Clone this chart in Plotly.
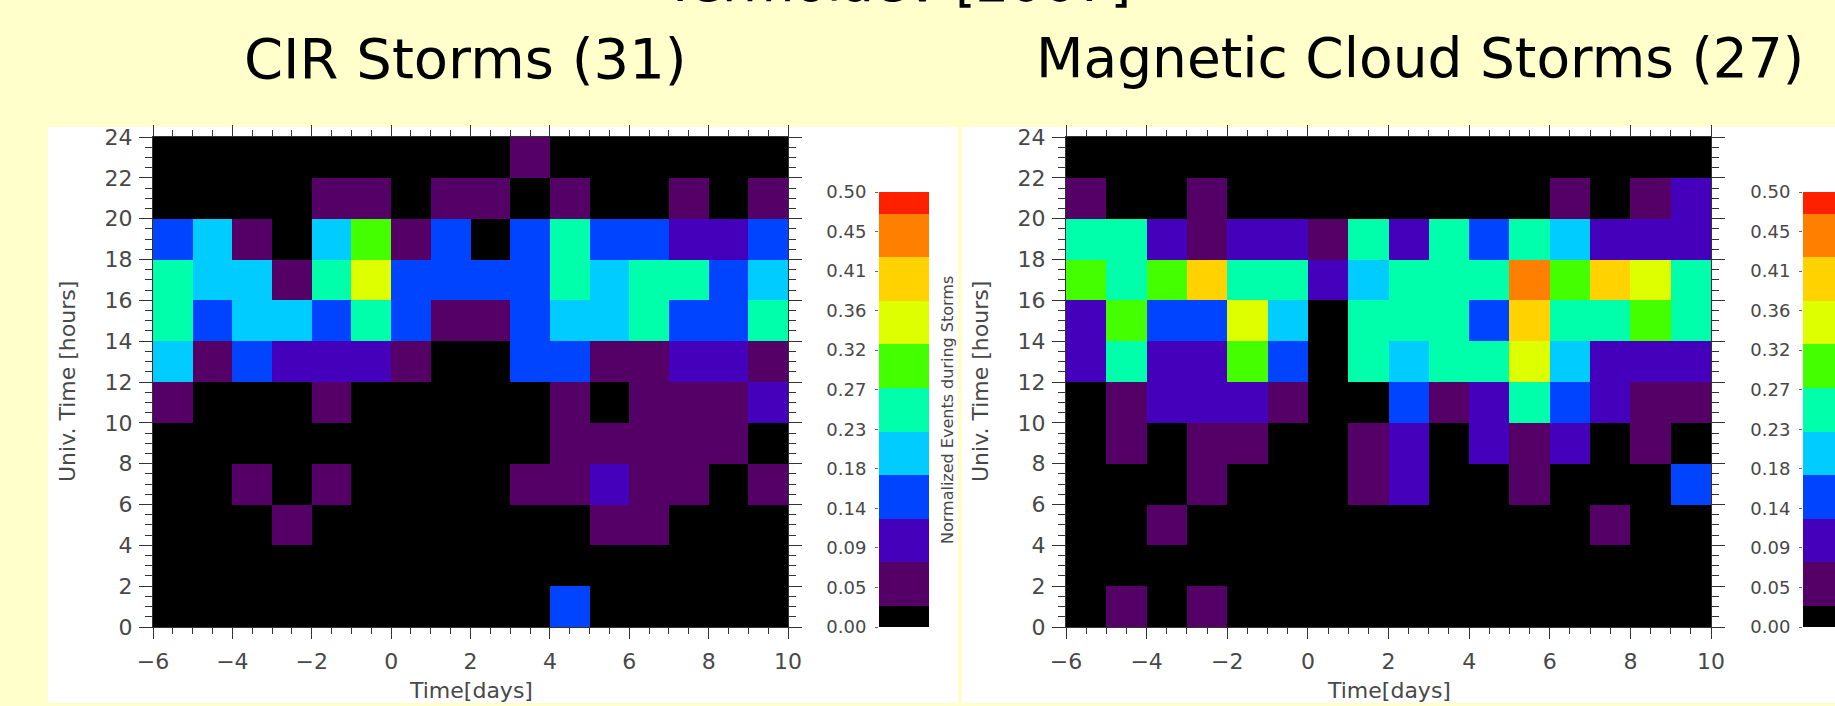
import plotly.graph_objects as go

W, H = 1835, 706

# ---------------- data ----------------
day_centers = [-5.5, -4.5, -3.5, -2.5, -1.5, -0.5, 0.5, 1.5, 2.5, 3.5, 4.5, 5.5, 6.5, 7.5, 8.5, 9.5]
ut_centers_top_down = [23, 21, 19, 17, 15, 13, 11, 9, 7, 5, 3, 1]

# CIR storms (31) : normalized events, rows from UT 22-24 down to UT 0-2
cir_rows = [
    [0, 0, 0, 0, 0, 0, 0, 0, 0, .05, 0, 0, 0, 0, 0, 0],
    [0, 0, 0, 0, .05, .05, 0, .05, .05, 0, .05, 0, 0, .05, 0, .05],
    [.15, .20, .05, 0, .20, .30, .05, .15, 0, .15, .25, .15, .15, .10, .10, .15],
    [.25, .20, .20, .05, .25, .35, .15, .15, .15, .15, .25, .20, .25, .25, .15, .20],
    [.25, .15, .20, .20, .15, .25, .15, .05, .05, .15, .20, .20, .25, .15, .15, .25],
    [.20, .05, .15, .10, .10, .10, .05, 0, 0, .15, .15, .05, .05, .10, .10, .05],
    [.05, 0, 0, 0, .05, 0, 0, 0, 0, 0, .05, 0, .05, .05, .05, .10],
    [0, 0, 0, 0, 0, 0, 0, 0, 0, 0, .05, .05, .05, .05, .05, 0],
    [0, 0, .05, 0, .05, 0, 0, 0, 0, .05, .05, .10, .05, .05, 0, .05],
    [0, 0, 0, .05, 0, 0, 0, 0, 0, 0, 0, .05, .05, 0, 0, 0],
    [0, 0, 0, 0, 0, 0, 0, 0, 0, 0, 0, 0, 0, 0, 0, 0],
    [0, 0, 0, 0, 0, 0, 0, 0, 0, 0, .15, 0, 0, 0, 0, 0],
]

# Magnetic cloud storms (27)
mc_rows = [
    [0, 0, 0, 0, 0, 0, 0, 0, 0, 0, 0, 0, 0, 0, 0, 0],
    [.05, 0, 0, .05, 0, 0, 0, 0, 0, 0, 0, 0, .05, 0, .05, .10],
    [.25, .25, .10, .05, .10, .10, .05, .25, .10, .25, .15, .25, .20, .10, .10, .10],
    [.30, .25, .30, .40, .25, .25, .10, .20, .25, .25, .25, .45, .30, .40, .35, .25],
    [.10, .30, .15, .15, .35, .20, 0, .25, .25, .25, .15, .40, .25, .25, .30, .25],
    [.10, .25, .10, .10, .30, .15, 0, .25, .20, .25, .25, .35, .20, .10, .10, .10],
    [0, .05, .10, .10, .10, .05, 0, 0, .15, .05, .10, .25, .15, .10, .05, .05],
    [0, .05, 0, .05, .05, 0, 0, .05, .10, 0, .10, .05, .10, 0, .05, 0],
    [0, 0, 0, .05, 0, 0, 0, .05, .10, 0, 0, .05, 0, 0, 0, .15],
    [0, 0, .05, 0, 0, 0, 0, 0, 0, 0, 0, 0, 0, .05, 0, 0],
    [0, 0, 0, 0, 0, 0, 0, 0, 0, 0, 0, 0, 0, 0, 0, 0],
    [0, .05, 0, .05, 0, 0, 0, 0, 0, 0, 0, 0, 0, 0, 0, 0],
]

level_values = [0.0, 0.05, 0.10, 0.15, 0.20, 0.25, 0.30, 0.35, 0.40, 0.45, 0.50]
level_colors = ["#000000", "#550066", "#4400BB", "#0044FF", "#00CCFF", "#00FFAA",
                "#44FF00", "#DDFF00", "#FFD200", "#FF8000", "#FF2000"]
cbar_tickvals = [0.0, 0.04545, 0.09091, 0.13636, 0.18182, 0.22727, 0.27273,
                 0.31818, 0.36364, 0.40909, 0.45455, 0.5]
cbar_ticktext = ["0.00", "0.05", "0.09", "0.14", "0.18", "0.23", "0.27",
                 "0.32", "0.36", "0.41", "0.45", "0.50"]
x_ticks = [-6, -4, -2, 0, 2, 4, 6, 8, 10]
y_ticks = [0, 2, 4, 6, 8, 10, 12, 14, 16, 18, 20, 22, 24]

main_title = "Yermolaev [2007]"
panel_titles = ["CIR Storms (31)", "Magnetic Cloud Storms (27)"]
x_title = "Time[days]"
y_title = "Univ. Time [hours]"
cbar_title = "Normalized Events during Storms"

# ---------------- helpers ----------------
def fx(px):
    return px / W


def fy(py):
    return 1 - py / H


n = len(level_colors)
colorscale = []
for i, c in enumerate(level_colors):
    colorscale.append([i / n, c])
    colorscale.append([(i + 1) / n, c])
zmin, zmax = -0.025, 0.525

ut_centers = ut_centers_top_down[::-1]
cir_z = cir_rows[::-1]
mc_z = mc_rows[::-1]

fig = go.Figure()

for k, z in enumerate([cir_z, mc_z]):
    sfx = "" if k == 0 else "2"
    fig.add_trace(go.Heatmap(
        x=day_centers, y=ut_centers, z=z,
        colorscale=colorscale, zmin=zmin, zmax=zmax, showscale=False,
        xaxis="x" + sfx, yaxis="y" + sfx, hoverinfo="skip"))

for k in range(2):
    sfx = "3" if k == 0 else "4"
    fig.add_trace(go.Heatmap(
        x=[0], y=level_values, z=[[v] for v in level_values],
        colorscale=colorscale, zmin=zmin, zmax=zmax, showscale=False,
        xaxis="x" + sfx, yaxis="y" + sfx, hoverinfo="skip"))

tick_font = dict(family="DejaVu Sans", size=22, color="#484848")
axcol = "#333333"

common_x = dict(range=[-6, 10], tickvals=x_ticks, ticks="outside", ticklen=11,
                tickwidth=1.2, tickcolor=axcol, showline=True, linecolor=axcol,
                linewidth=1.2, mirror="allticks", showgrid=False, zeroline=False,
                tickfont=tick_font, ticklabelstandoff=3, automargin=False,
                minor=dict(ticks="outside", ticklen=6, dtick=0.5, tickcolor=axcol,
                           tickwidth=1, showgrid=False))
common_y = dict(range=[0, 24], tickvals=y_ticks, ticks="outside", ticklen=13,
                tickwidth=1.2, tickcolor=axcol, showline=True, linecolor=axcol,
                linewidth=1.2, mirror="allticks", showgrid=False, zeroline=False,
                tickfont=tick_font, ticklabelstandoff=2, automargin=False,
                minor=dict(ticks="outside", ticklen=7, dtick=0.5, tickcolor=axcol,
                           tickwidth=1, showgrid=False))

plot_top, plot_bot = 137, 627
left_x = (153, 788)
right_x = (1066, 1711)
cb_top, cb_bot = 192, 627
cb1_x = (879, 929)
cb2_x = (1803, 1853)

cbar_axis = dict(range=[0, 0.5], tickvals=cbar_tickvals, ticktext=cbar_ticktext,
                 ticks="outside", ticklen=3, tickcolor="#666666", showline=False,
                 showgrid=False, zeroline=False, ticklabelstandoff=5, automargin=False,
                 tickfont=dict(family="DejaVu Sans", size=18, color="#484848"))
hidden_x = dict(visible=False, range=[-0.5, 0.5], automargin=False)

fig.update_layout(
    template="none",
    width=W, height=H,
    margin=dict(l=0, r=0, t=0, b=0, pad=0, autoexpand=False),
    paper_bgcolor="#FFFFCC",
    plot_bgcolor="#FFFFFF",
    showlegend=False,
    xaxis=dict(domain=[fx(left_x[0]), fx(left_x[1])], anchor="y", **common_x),
    yaxis=dict(domain=[fy(plot_bot), fy(plot_top)], anchor="x", **common_y),
    xaxis2=dict(domain=[fx(right_x[0]), fx(right_x[1])], anchor="y2", **common_x),
    yaxis2=dict(domain=[fy(plot_bot), fy(plot_top)], anchor="x2", **common_y),
    xaxis3=dict(domain=[fx(cb1_x[0]), fx(cb1_x[1])], anchor="y3", **hidden_x),
    yaxis3=dict(domain=[fy(cb_bot), fy(cb_top)], anchor="x3", **cbar_axis),
    xaxis4=dict(domain=[fx(cb2_x[0]), 1.0], anchor="y4", **hidden_x),
    yaxis4=dict(domain=[fy(cb_bot), fy(cb_top)], anchor="x4", **cbar_axis),
)

# white panels
for x0, x1 in [(48, 958), (962, 1835)]:
    fig.add_shape(type="rect", xref="paper", yref="paper",
                  x0=fx(x0), x1=fx(x1), y0=fy(703), y1=fy(127),
                  fillcolor="#FFFFFF", line=dict(width=0), layer="below")

ann = []
ann.append(dict(text=main_title, x=fx(897), y=1.0, yshift=18, xref="paper", yref="paper",
                showarrow=False, xanchor="center", yanchor="middle",
                font=dict(family="DejaVu Sans", size=53, color="#000000")))
ann.append(dict(text=panel_titles[0], x=fx(465), y=fy(58), xref="paper", yref="paper",
                showarrow=False, xanchor="center", yanchor="middle",
                font=dict(family="DejaVu Sans", size=56, color="#000000")))
ann.append(dict(text=panel_titles[1], x=fx(1420), y=fy(58), xref="paper", yref="paper",
                showarrow=False, xanchor="center", yanchor="middle",
                font=dict(family="DejaVu Sans", size=55, color="#000000")))
for cx, ax_x in [((left_x[0] + left_x[1]) / 2, 67), ((right_x[0] + right_x[1]) / 2, 980)]:
    ann.append(dict(text=x_title, x=fx(cx), y=fy(690), xref="paper", yref="paper",
                    showarrow=False, xanchor="center", yanchor="middle",
                    font=dict(family="DejaVu Sans", size=22, color="#484848")))
    ann.append(dict(text=y_title, x=fx(ax_x), y=fy((plot_top + plot_bot) / 2),
                    xref="paper", yref="paper", textangle=-90,
                    showarrow=False, xanchor="center", yanchor="middle",
                    font=dict(family="DejaVu Sans", size=22, color="#484848")))
ann.append(dict(text=cbar_title, x=fx(947), y=fy(410), xref="paper", yref="paper",
                textangle=-90, showarrow=False, xanchor="center", yanchor="middle",
                font=dict(family="DejaVu Sans", size=16, color="#484848")))
fig.update_layout(annotations=ann)

fig.write_html("out.html")
